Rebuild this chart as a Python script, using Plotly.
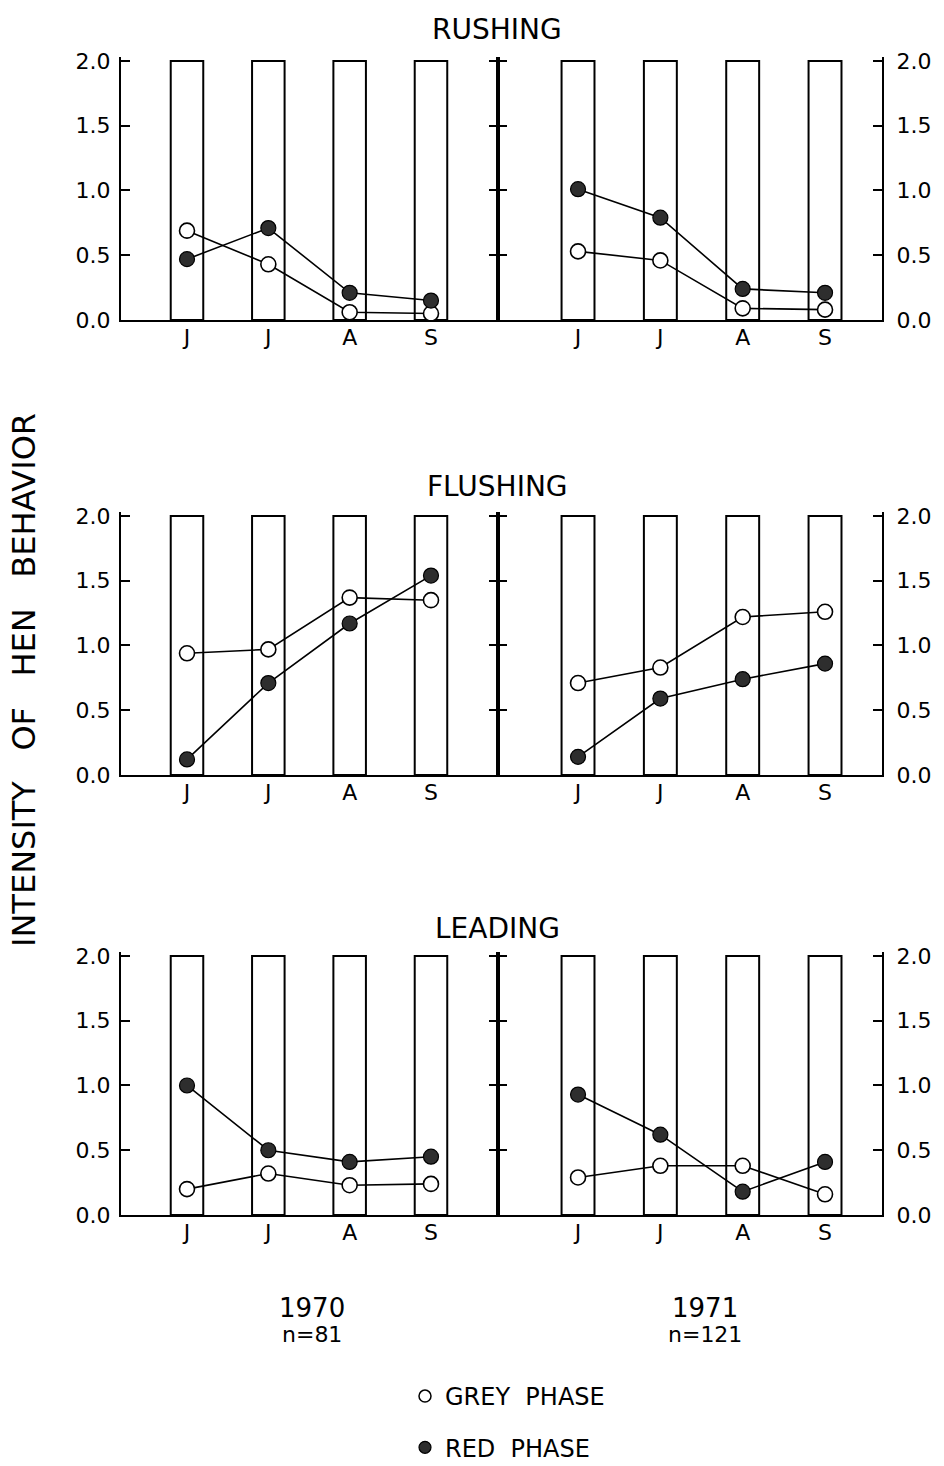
import plotly.graph_objects as go

# ---------------- data ----------------
months = ["Jun", "Jul", "Aug", "Sep"]
month_labels = ["J", "J", "A", "S"]
frame_heights = [2.0, 2.0, 2.0, 2.0]
y_ticks = [0.0, 0.5, 1.0, 1.5, 2.0]

panel_titles = ["RUSHING", "FLUSHING", "LEADING"]
years = ["1970", "1971"]
sample_sizes = ["n=81", "n=121"]

rushing_1970_grey = [0.69, 0.43, 0.06, 0.05]
rushing_1970_red = [0.47, 0.71, 0.21, 0.15]
rushing_1971_grey = [0.53, 0.46, 0.09, 0.08]
rushing_1971_red = [1.01, 0.79, 0.24, 0.21]

flushing_1970_grey = [0.94, 0.97, 1.37, 1.35]
flushing_1970_red = [0.12, 0.71, 1.17, 1.54]
flushing_1971_grey = [0.71, 0.83, 1.22, 1.26]
flushing_1971_red = [0.14, 0.59, 0.74, 0.86]

leading_1970_grey = [0.20, 0.32, 0.23, 0.24]
leading_1970_red = [1.00, 0.50, 0.41, 0.45]
leading_1971_grey = [0.29, 0.38, 0.38, 0.16]
leading_1971_red = [0.93, 0.62, 0.18, 0.41]

series = [
    [(rushing_1970_grey, rushing_1970_red), (rushing_1971_grey, rushing_1971_red)],
    [(flushing_1970_grey, flushing_1970_red), (flushing_1971_grey, flushing_1971_red)],
    [(leading_1970_grey, leading_1970_red), (leading_1971_grey, leading_1971_red)],
]

# ---------------- layout geometry ----------------
W, H = 944, 1466
FONT = "DejaVu Sans"
INK = "black"
RED_FILL = "#2e2e2e"

px_per_unit = 129.5
y_top = 2.03
row_zero_px = [320, 775, 1215]
col_px = [(121, 498), (498, 882)]
col_ranges = [[-0.8115, 3.824], [-0.972, 3.692]]
title_px = [30, 487, 928]

fig = go.Figure()
layout = dict(
    width=W, height=H,
    margin=dict(l=0, r=0, t=0, b=0, autoexpand=False),
    paper_bgcolor="white", plot_bgcolor="white",
    font=dict(family=FONT, color=INK, size=22),
    barmode="overlay",
    showlegend=True,
)

for r in range(3):
    zero = row_zero_px[r]
    top = zero - y_top * px_per_unit
    ydom = [1 - zero / H, 1 - top / H]
    for c in range(2):
        idx = r * 2 + c + 1
        xs = "x" if idx == 1 else f"x{idx}"
        ys = "y" if idx == 1 else f"y{idx}"
        grey, red = series[r][c]

        fig.add_trace(go.Bar(
            x=months, y=frame_heights, width=0.4,
            marker=dict(color="white", line=dict(color=INK, width=2)),
            xaxis=xs, yaxis=ys, showlegend=False, hoverinfo="skip",
        ))
        fig.add_trace(go.Scatter(
            x=months, y=grey, mode="lines+markers",
            line=dict(color=INK, width=1.6),
            marker=dict(size=15, color="white", line=dict(color=INK, width=1.6)),
            xaxis=xs, yaxis=ys, showlegend=False,
        ))
        fig.add_trace(go.Scatter(
            x=months, y=red, mode="lines+markers",
            line=dict(color=INK, width=1.6),
            marker=dict(size=15, color=RED_FILL, line=dict(color=INK, width=1.2)),
            xaxis=xs, yaxis=ys, showlegend=False,
        ))

        xd = [col_px[c][0] / W, col_px[c][1] / W]
        layout["xaxis" if idx == 1 else f"xaxis{idx}"] = dict(
            domain=xd, range=col_ranges[c], anchor=ys,
            type="category", categoryorder="array", categoryarray=months,
            tickmode="array", tickvals=months, ticktext=month_labels,
            ticks="", showline=True, linecolor=INK, linewidth=2,
            showgrid=False, zeroline=False, fixedrange=True,
            tickfont=dict(size=22), ticklabelstandoff=-3,
        )
        layout["yaxis" if idx == 1 else f"yaxis{idx}"] = dict(
            domain=ydom, range=[0, y_top], anchor=xs,
            side="left" if c == 0 else "right",
            tickmode="array", tickvals=y_ticks, tickformat=".1f",
            ticks="inside", ticklen=9, tickwidth=2, tickcolor=INK,
            showline=True, linecolor=INK, linewidth=2, mirror="ticks",
            showgrid=False, zeroline=False, fixedrange=True,
            tickfont=dict(size=22),
            ticklabelstandoff=4 if c == 0 else 8,
        )

# legend entries
fig.add_trace(go.Scatter(
    x=[None], y=[None], mode="markers", name="GREY\u00a0\u00a0PHASE",
    marker=dict(size=12, color="white", line=dict(color=INK, width=1.5)),
    legendgroup="g", xaxis="x5", yaxis="y5",
))
fig.add_trace(go.Scatter(
    x=[None], y=[None], mode="markers", name="RED\u00a0\u00a0PHASE",
    marker=dict(size=12, color=RED_FILL, line=dict(color=INK, width=1.2)),
    legendgroup="r", xaxis="x5", yaxis="y5",
))
layout["legend"] = dict(
    x=405 / W, y=1 - 1374 / H, xanchor="left", yanchor="top",
    font=dict(size=24, family=FONT, color=INK),
    tracegroupgap=17, bgcolor="rgba(0,0,0,0)", itemclick=False,
)

annotations = []
for r in range(3):
    annotations.append(dict(
        text=panel_titles[r], x=497 / W, y=1 - title_px[r] / H,
        xref="paper", yref="paper", showarrow=False,
        xanchor="center", yanchor="middle", font=dict(size=28),
    ))

year_x = [312, 705]
for c in range(2):
    annotations.append(dict(
        text=years[c], x=year_x[c] / W, y=1 - 1308 / H,
        xref="paper", yref="paper", showarrow=False,
        xanchor="center", yanchor="middle", font=dict(size=26),
    ))
    annotations.append(dict(
        text=sample_sizes[c], x=year_x[c] / W, y=1 - 1334 / H,
        xref="paper", yref="paper", showarrow=False,
        xanchor="center", yanchor="middle", font=dict(size=22),
    ))

sp = "\u00a0\u00a0\u00a0"
annotations.append(dict(
    text=f"INTENSITY{sp}OF{sp}HEN{sp}BEHAVIOR", x=24 / W, y=1 - 680 / H,
    xref="paper", yref="paper", showarrow=False, textangle=-90,
    xanchor="center", yanchor="middle", font=dict(size=32),
))
layout["annotations"] = annotations

fig.update_layout(**layout)
fig.write_html(
    "out.html",
    config={"displayModeBar": False},
    post_script="document.body.style.margin='0px';",
)
